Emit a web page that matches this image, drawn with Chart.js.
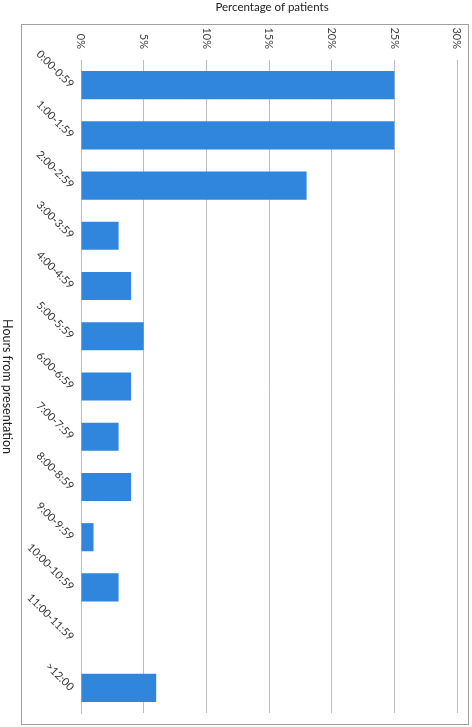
<!DOCTYPE html>
<html>
<head>
<meta charset="utf-8">
<script src="https://cdn.jsdelivr.net/npm/chart.js@4.4.1/dist/chart.umd.min.js"></script>
<style>
  html, body { margin: 0; padding: 0; background: #fff; }
  #wrap { width: 472px; height: 727px; position: relative; }
</style>
</head>
<body>
<div id="wrap"><canvas id="c" width="472" height="727"></canvas></div>
<script>
const categories = ['0:00-0:59','1:00-1:59','2:00-2:59','3:00-3:59','4:00-4:59','5:00-5:59','6:00-6:59','7:00-7:59','8:00-8:59','9:00-9:59','10:00-10:59','11:00-11:59','>12:00'];
const percentages = [25, 25, 18, 3, 4, 5, 4, 3, 4, 1, 3, 0, 6];
const tickValues = [0, 5, 10, 15, 20, 25, 30];
const tickLabels = ['0%','5%','10%','15%','20%','25%','30%'];
const xTitle = 'Percentage of patients';
const yTitle = 'Hours from presentation';

const FONT = 'Lato, "Open Sans", sans-serif';

const textPlugin = {
  id: 'customText',
  beforeDraw(chart) {
    const ctx = chart.ctx;
    ctx.save();
    ctx.fillStyle = '#fff';
    ctx.fillRect(0, 0, chart.width, chart.height);
    ctx.strokeStyle = '#a0a0a0';
    ctx.lineWidth = 1;
    ctx.strokeRect(21.5, 24.5, 447, 700);
    ctx.restore();
  },
  afterDraw(chart) {
    const ctx = chart.ctx;
    const xs = chart.scales.x, ys = chart.scales.y;
    const area = chart.chartArea;
    ctx.save();
    // title
    ctx.fillStyle = '#222';
    ctx.font = '11.5px ' + FONT;
    ctx.textAlign = 'center';
    ctx.textBaseline = 'middle';
    ctx.fillText(xTitle, (area.left + area.right) / 2 + 3, 7);
    // x tick labels rotated 90deg clockwise
    ctx.font = '11px ' + FONT;
    ctx.fillStyle = '#444';
    tickValues.forEach((v, i) => {
      const px = xs.getPixelForValue(v);
      ctx.save();
      ctx.translate(px, 49);
      ctx.rotate(Math.PI / 2);
      ctx.textAlign = 'right';
      ctx.textBaseline = 'middle';
      ctx.fillText(tickLabels[i], 0, 0);
      ctx.restore();
    });
    // category labels rotated 45deg clockwise
    ctx.font = '11px ' + FONT;
    ctx.fillStyle = '#333';
    categories.forEach((c, i) => {
      const py = ys.getPixelForValue(i);
      ctx.save();
      ctx.translate(area.left - 9, py + 1);
      ctx.rotate(Math.PI / 4);
      ctx.textAlign = 'right';
      ctx.textBaseline = 'middle';
      ctx.fillText(c, 0, 0);
      ctx.restore();
    });
    // y title rotated 90deg clockwise
    ctx.font = '12.5px ' + FONT;
    ctx.fillStyle = '#222';
    ctx.save();
    ctx.translate(7, (area.top + area.bottom) / 2);
    ctx.rotate(Math.PI / 2);
    ctx.textAlign = 'center';
    ctx.textBaseline = 'middle';
    ctx.fillText(yTitle, 0, 0);
    ctx.restore();
    ctx.restore();
  }
};

new Chart(document.getElementById('c'), {
  type: 'bar',
  data: {
    labels: categories,
    datasets: [{
      data: percentages,
      backgroundColor: '#2f86dc',
      borderWidth: 0,
      barPercentage: 0.56,
      categoryPercentage: 1.0
    }]
  },
  options: {
    indexAxis: 'y',
    responsive: false,
    animation: false,
    devicePixelRatio: 1,
    layout: { padding: { left: 81, top: 60, right: 15, bottom: 14 } },
    plugins: { legend: { display: false }, tooltip: { enabled: false }, title: { display: false } },
    scales: {
      x: {
        position: 'top',
        min: 0, max: 30,
        ticks: { display: false, stepSize: 5 },
        grid: { color: '#bdbdbd', lineWidth: 1, drawTicks: false },
        border: { display: false },
        afterFit(s) { s.height = 0; }
      },
      y: {
        ticks: { display: false },
        grid: { display: false, drawTicks: false },
        border: { display: true, color: '#bdbdbd', width: 1 },
        afterFit(s) { s.width = 0; }
      }
    }
  },
  plugins: [textPlugin]
});
</script>
</body>
</html>
